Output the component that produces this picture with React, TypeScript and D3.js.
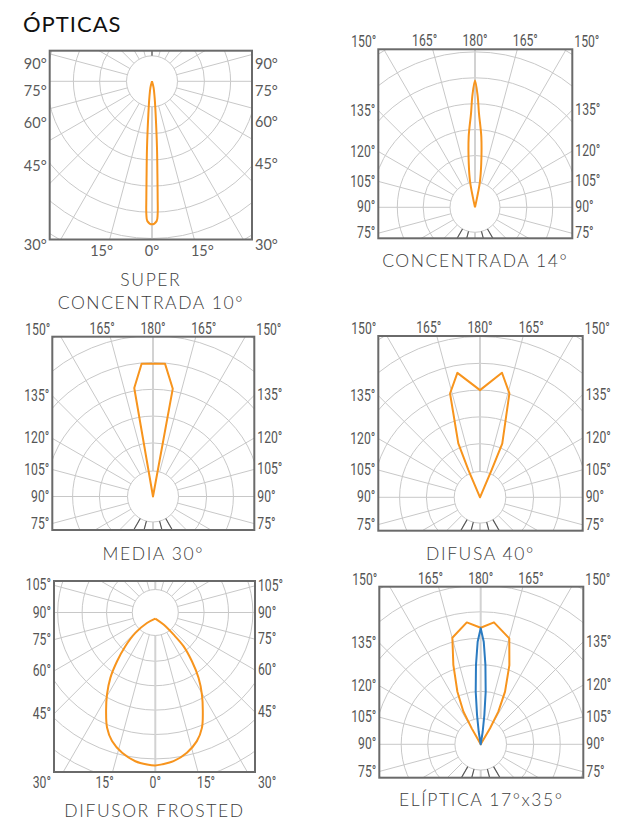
import React from 'react';
import * as d3 from 'd3';

const title = 'ÓPTICAS';
const ORANGE = '#f7941d';
const BLUE = '#2b7bc1';

// Curve data: photometric angle gamma (deg, 0 = down, 180 = up, negative = left side)
// and relative intensity expressed in grid-ring units.
const superGamma = [-20, -14, -9.1, -6.3, -4.3, -3.15, -2.78, -2.43, -1.9, 0, 1.9, 2.43, 2.78, 3.15, 4.3, 6.3, 9.1, 14, 20];
const superValue = [0, 0.25, 0.64, 1.27, 2.54, 3.81, 4.45, 5.08, 5.34, 5.46, 5.34, 5.08, 4.45, 3.81, 2.54, 1.27, 0.64, 0.25, 0];

const concGamma = [-166, -168, -169.1, -171.9, -174.9, -177.6, -178.6, 180, 178.6, 177.6, 174.9, 171.9, 169.1, 168, 166];
const concValue = [0, 0.42, 1.0, 1.71, 2.74, 3.64, 4.28, 4.9, 4.28, 3.64, 2.74, 1.71, 1.0, 0.42, 0];

const mediaGamma = [0, -170.2, -175.1, 174.8, 169.6];
const mediaValue = [0, 4.11, 4.97, 4.97, 4.09];

const difusaGamma = [0, -156.9, -158.1, -163.9, -169.7, 180, 170, 164.2, 157.5, 156.9];
const difusaValue = [0, 1.11, 2.17, 4.03, 4.72, 4.0, 4.72, 4.03, 2.17, 1.11];

const frostGamma = [0, -38.4, -44.3, -41.6, -38.1, -34.5, -30.5, -26.5, -22.7, -18.6, -13.3, -7.65, -3.1, 0, 2.5, 7.0, 12.7, 17.9, 22, 25.7, 29.6, 33.5, 36.9, 39.9, 39.6, 34.4, 0];
const frostValue = [0.25, 0.55, 1.17, 1.85, 2.54, 3.25, 3.9, 4.52, 5.12, 5.56, 5.91, 6.15, 6.24, 6.27, 6.23, 6.14, 5.89, 5.54, 5.1, 4.49, 3.87, 3.21, 2.5, 1.81, 1.18, 0.6, 0.25];

const elipOrangeGamma = [0, -150.6, -152.1, -156.1, -161, -165.1, -173.5, 180, 173.8, 164.9, 160.1, 155.2, 151.6, 149.7];
const elipOrangeValue = [0, 0.69, 1.4, 2.17, 3.17, 4.16, 4.63, 4.4, 4.63, 4.14, 3.18, 2.19, 1.4, 0.7];
const elipBlueGamma = [0, -171, -172.9, -174.6, -176.6, -178.3, 180, 178.3, 176.6, 174.6, 172.9, 171];
const elipBlueValue = [0, 0.48, 1.12, 2.0, 3.0, 3.87, 4.38, 3.87, 3.0, 2.0, 1.12, 0.48];

// Tick labels
const sideTicksDown = [90, 75, 60, 45];
const sideTicksFrost = [105, 90, 75, 60, 45];
const sideTicksUp = [135, 120, 105, 90, 75];
const topTicks = [-165, 180, 165];
const bottomTicks = [-15, 0, 15];
const topCorner = 150;
const bottomCorner = 30;

type Curve = { g: number[]; v: number[]; color: string; kind: 'smooth' | 'linear' | 'closed' };
type PanelCfg = {
  caption: string[];
  frame: [number, number, number, number];
  center: [number, number];
  ring: number;
  hole: number;
  curves: Curve[];
  side: number[];
  edge: 'top' | 'bottom';
  sideDy: number;
  cornerDy: number;
  dark: number[];
  labelStyle: 'round' | 'narrow';
  capDy: number;
};

const panels: PanelCfg[] = [
  {
    caption: ['SUPER', 'CONCENTRADA 10°'], frame: [49.7, 50.7, 252, 239.5], center: [152, 81.3], ring: 26.2, hole: 25.5,
    curves: [{ g: superGamma, v: superValue, color: ORANGE, kind: 'smooth' }],
    side: sideTicksDown, edge: 'bottom', sideDy: -18, cornerDy: 5, dark: [180], labelStyle: 'round', capDy: 46.5,
  },
  {
    caption: ['CONCENTRADA 14°'], frame: [378.3, 49.3, 572.3, 238.3], center: [475, 207.3], ring: 25.9, hole: 25,
    curves: [{ g: concGamma, v: concValue, color: ORANGE, kind: 'smooth' }],
    side: sideTicksUp, edge: 'top', sideDy: 0, cornerDy: 0, dark: [-30, -15, 15, 30], labelStyle: 'narrow', capDy: 28.5,
  },
  {
    caption: ['MEDIA 30°'], frame: [52.3, 336.7, 254.3, 530], center: [153, 496.5], ring: 26.8, hole: 25.5,
    curves: [{ g: mediaGamma, v: mediaValue, color: ORANGE, kind: 'closed' }],
    side: sideTicksUp, edge: 'top', sideDy: 0, cornerDy: 0, dark: [-30, -15, 15, 30], labelStyle: 'narrow', capDy: 29.5,
  },
  {
    caption: ['DIFUSA 40°'], frame: [378.3, 336, 582.7, 530.7], center: [480, 497.3], ring: 26.8, hole: 25.8,
    curves: [{ g: difusaGamma, v: difusaValue, color: ORANGE, kind: 'closed' }],
    side: sideTicksUp, edge: 'top', sideDy: 0, cornerDy: 0, dark: [-30, -15, 15, 30], labelStyle: 'narrow', capDy: 29,
  },
  {
    caption: ['DIFUSOR FROSTED'], frame: [54, 581, 255, 772], center: [155.3, 612.5], ring: 24.4, hole: 23,
    curves: [{ g: frostGamma, v: frostValue, color: ORANGE, kind: 'smooth' }],
    side: sideTicksFrost, edge: 'bottom', sideDy: 0, cornerDy: 11, dark: [], labelStyle: 'narrow', capDy: 44.5,
  },
  {
    caption: ['ELÍPTICA 17°x35°'], frame: [379.3, 586.7, 583.3, 777.7], center: [480.7, 744.3], ring: 26.5, hole: 25.8,
    curves: [
      { g: elipOrangeGamma, v: elipOrangeValue, color: ORANGE, kind: 'closed' },
      { g: elipBlueGamma, v: elipBlueValue, color: BLUE, kind: 'closed' },
    ],
    side: sideTicksUp, edge: 'top', sideDy: 0, cornerDy: 0, dark: [-30, -15, 15, 30], labelStyle: 'narrow', capDy: 28,
  },
];

const toRad = (g: number) => ((180 - g) * Math.PI) / 180;

function Label({ x, y, text, anchor, style, baseline }: { x: number; y: number; text: string; anchor: string; style: string; baseline: string }) {
  if (style === 'round') {
    return (
      <text x={x} y={y} textAnchor={anchor} dominantBaseline={baseline} fontFamily="Lato, 'Open Sans', sans-serif" fontSize={14.5} fill="#5a5a5a">
        {text}
      </text>
    );
  }
  return (
    <text transform={`translate(${x},${y}) scale(0.74,1)`} textAnchor={anchor} dominantBaseline={baseline} fontFamily="Roboto, 'Open Sans', sans-serif" fontSize={16.5} fill="#555">
      {text}
    </text>
  );
}

function Panel({ p, id }: { p: PanelCfg; id: number }) {
  const [x0, y0, x1, y1] = p.frame;
  const [cx, cy] = p.center;
  const maxRing = 12;
  const r = d3.scaleLinear().domain([0, maxRing]).range([0, maxRing * p.ring]);
  const rings = d3.range(2, maxRing + 1);
  const spokes = d3.range(-165, 181, 15);

  const hit = (g: number) => {
    const a = (g * Math.PI) / 180;
    const dx = Math.sin(a);
    const dy = Math.cos(a);
    const tx = dx > 1e-9 ? (x1 - cx) / dx : dx < -1e-9 ? (x0 - cx) / dx : Infinity;
    const ty = dy > 1e-9 ? (y1 - cy) / dy : dy < -1e-9 ? (y0 - cy) / dy : Infinity;
    const t = Math.min(tx, ty);
    return { x: cx + t * dx, y: cy + t * dy, t };
  };

  const labels: JSX.Element[] = [];
  p.side.forEach((g, i) => {
    const hl = hit(-g);
    const hr = hit(g);
    labels.push(<Label key={`l${i}`} x={x0 - 3} y={hl.y + p.sideDy} text={`${g}°`} anchor="end" style={p.labelStyle} baseline="central" />);
    labels.push(<Label key={`r${i}`} x={x1 + 3} y={hr.y + p.sideDy} text={`${g}°`} anchor="start" style={p.labelStyle} baseline="central" />);
  });
  const edgeTicks = p.edge === 'top' ? topTicks : bottomTicks;
  edgeTicks.forEach((g, i) => {
    const h = hit(g);
    const sgn = g === 0 || g === 180 ? 0 : g < 0 ? -1 : 1;
    const x = h.x + sgn * 8;
    if (p.edge === 'top') {
      labels.push(<Label key={`t${i}`} x={x} y={y0 - 3} text={`${Math.abs(g)}°`} anchor="middle" style={p.labelStyle} baseline="auto" />);
    } else {
      labels.push(<Label key={`b${i}`} x={x} y={y1 + 11} text={`${Math.abs(g)}°`} anchor="middle" style={p.labelStyle} baseline="central" />);
    }
  });
  const corner = p.edge === 'top' ? topCorner : bottomCorner;
  if (p.edge === 'top') {
    labels.push(<Label key="c1" x={x0 - 2} y={y0 - 2} text={`${corner}°`} anchor="end" style={p.labelStyle} baseline="auto" />);
    labels.push(<Label key="c2" x={x1 + 2} y={y0 - 2} text={`${corner}°`} anchor="start" style={p.labelStyle} baseline="auto" />);
  } else {
    labels.push(<Label key="c1" x={x0 - 3} y={y1 + p.cornerDy} text={`${corner}°`} anchor="end" style={p.labelStyle} baseline="central" />);
    labels.push(<Label key="c2" x={x1 + 3} y={y1 + p.cornerDy} text={`${corner}°`} anchor="start" style={p.labelStyle} baseline="central" />);
  }

  const capY = y1 + p.capDy;
  const capX = (x0 + x1) / 2;

  return (
    <g>
      <defs>
        <clipPath id={`clip${id}`}>
          <rect x={x0} y={y0} width={x1 - x0} height={y1 - y0} />
        </clipPath>
      </defs>
      <rect x={x0} y={y0} width={x1 - x0} height={y1 - y0} fill="#fff" />
      <g clipPath={`url(#clip${id})`}>
        <g transform={`translate(${cx},${cy})`}>
          {rings.map((k) => (
            <circle key={k} r={r(k)} fill="none" stroke="#c8c8c8" strokeWidth={1} />
          ))}
          {spokes.map((g) => {
            const a = toRad(g);
            const main = g === 0 || g === 180;
            const rr = r(maxRing);
            return (
              <line
                key={g}
                x1={p.hole * Math.sin(a)}
                y1={-p.hole * Math.cos(a)}
                x2={rr * Math.sin(a)}
                y2={-rr * Math.cos(a)}
                stroke={main ? '#d2d2d2' : '#c8c8c8'}
                strokeWidth={main ? 2 : 1}
              />
            );
          })}
          <circle r={p.hole} fill="#fff" stroke="#c8c8c8" strokeWidth={1} />
          {p.dark.map((g) => {
            const a = toRad(g);
            const h = hit(g);
            return (
              <line key={`d${g}`} x1={p.hole * Math.sin(a)} y1={-p.hole * Math.cos(a)} x2={(h.t + 2) * Math.sin(a)} y2={-(h.t + 2) * Math.cos(a)} stroke="#555" strokeWidth={1.1} />
            );
          })}
          {p.curves.map((c, ci) => {
            const pts: [number, number][] = c.g.map((g, i) => [g, c.v[i]]);
            const line = d3
              .lineRadial<[number, number]>()
              .angle((d) => toRad(d[0]))
              .radius((d) => r(d[1]))
              .curve(c.kind === 'smooth' ? d3.curveCatmullRom.alpha(0.5) : c.kind === 'closed' ? d3.curveLinearClosed : d3.curveLinear);
            return <path key={ci} d={line(pts) || ''} fill="none" stroke={c.color} strokeWidth={2} strokeLinejoin="round" />;
          })}
        </g>
      </g>
      <rect x={x0} y={y0} width={x1 - x0} height={y1 - y0} fill="none" stroke="#6a6a6a" strokeWidth={2} />
      {labels}
      {p.caption.map((t, i) => (
        <text key={i} x={capX} y={capY + i * 22.5} textAnchor="middle" fontFamily="Lato, 'Open Sans', sans-serif" fontWeight={300} fontSize={17.5} letterSpacing={1.6} fill="#3c3c3c">
          {t}
        </text>
      ))}
    </g>
  );
}

export default function App() {
  return (
    <svg width={635} height={820} style={{ position: 'absolute', left: 0, top: 0, background: '#fff' }}>
      <text x={23} y={32} fontFamily="Lato, 'Open Sans', sans-serif" fontSize={22} fill="#111" letterSpacing={1}>
        {title}
      </text>
      {panels.map((p, i) => (
        <Panel key={i} p={p} id={i} />
      ))}
    </svg>
  );
}
